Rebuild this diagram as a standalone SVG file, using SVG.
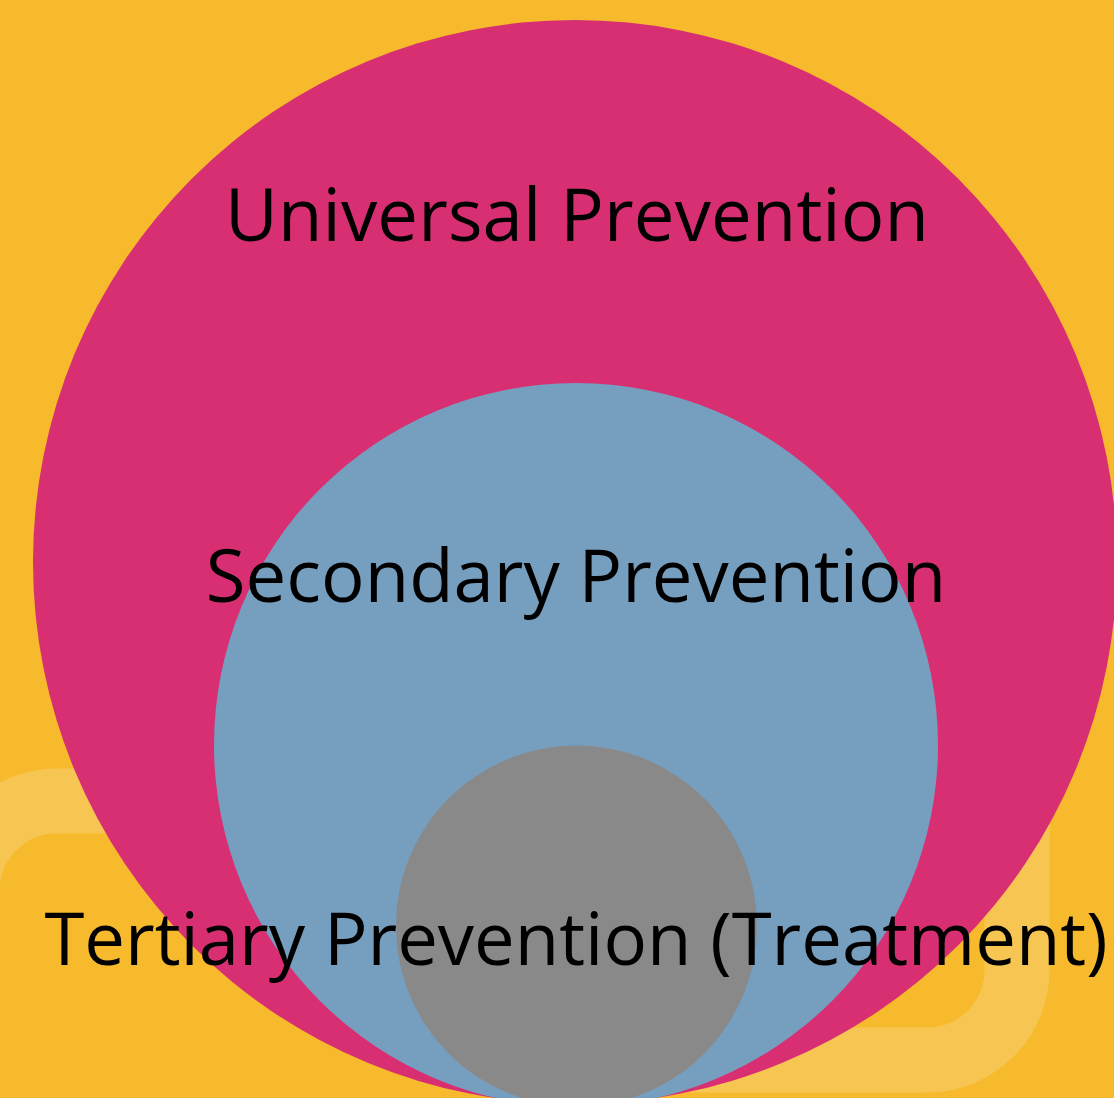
<svg xmlns="http://www.w3.org/2000/svg" width="1114" height="1098" viewBox="0 0 1114 1098">
<style>
.lbl{font-family:"Open Sans","Noto Sans","DejaVu Sans",sans-serif;font-size:72.5px;fill:#000;text-anchor:middle}
.band{fill:none;stroke:#F7C652;stroke-width:65}
</style>
<rect x="0" y="0" width="1114" height="1098" fill="#F6BA2C"/>
<g id="background-bands">
<path class="band" d="M -33 1200 V 891 A 90 90 0 0 1 57 801 H 600"/>
<path class="band" d="M 1017 500 V 970 A 90 90 0 0 1 927 1060 H 600"/>
</g>
<g id="universal">
<circle cx="575" cy="562" r="542" fill="#D82F73"/>
</g>
<g id="secondary">
<circle cx="576" cy="745" r="362" fill="#769EBF"/>
</g>
<g id="tertiary">
<circle cx="576.5" cy="926" r="180.5" fill="#898989"/>
</g>
<g id="connectors"></g>
<g id="labels">
<text class="lbl" x="577" y="241" textLength="704">Universal Prevention</text>
<text class="lbl" x="576" y="602">Secondary Prevention</text>
<text class="lbl" x="576" y="965">Tertiary Prevention (Treatment)</text>
</g>
</svg>
